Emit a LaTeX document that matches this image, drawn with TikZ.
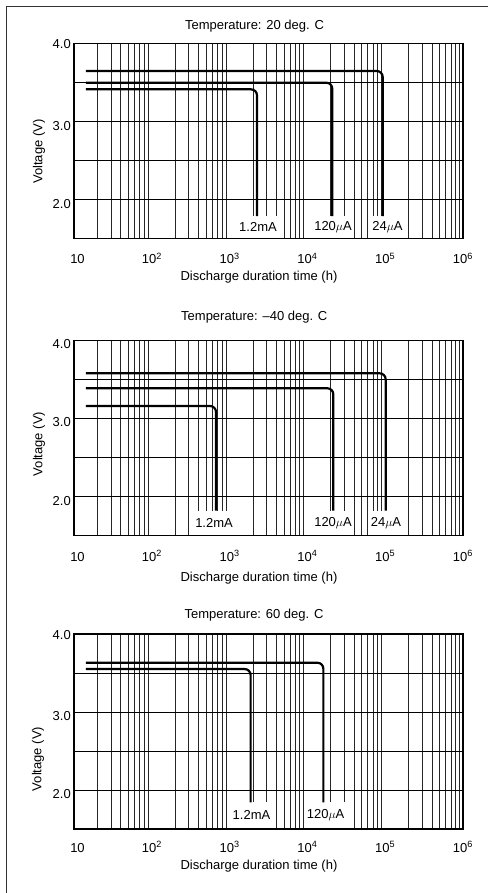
\documentclass[tikz,border=0pt]{standalone}
\usepackage{fontspec}
\setmainfont{Liberation Sans}
\newcommand\gridpanel{%
  \foreach \k in {0,...,4}{\foreach \m in {2,...,9}{\draw[gridv] ({\k+log10(\m)},0) -- ++(0,2.5);}}
  \foreach \v in {0.5,1,1.5,2} \draw[gridh] (0,\v) -- (5,\v);
}
\newcommand\xticks[2]{% #1 prefix, #2 baseline y
  \node[anchor=base] (#1x1) at (77.5,#2) {10};
  \foreach \k in {2,...,6}{%
    \pgfmathsetmacro\xx{74+77.8*(\k-1)}
    \node[anchor=base] (#1x\k) at (\xx,#2) {10\textsuperscript{\k}};}
}
\begin{document}
\begin{tikzpicture}[x=1pt,y=-1pt,
  font=\fontsize{13}{15}\selectfont,
  gridv/.style={draw=black!85, line width=0.9pt},
  gridh/.style={draw=black, line width=0.95pt},
  plotframe/.style={draw=black, line width=1.2pt},
  curve/.style={draw=black, line width=2.2pt, rounded corners=6pt},
  curlab/.style={fill=white, inner xsep=2pt, inner ysep=0pt, anchor=south},
  ylab/.style={anchor=east, inner sep=1pt},
  panel/.style={shift={(74pt,-#1pt)}, x=77.8pt, y=78pt}]
\useasboundingbox (0,0) rectangle (488,893);
\fill[white] (0,0) rectangle (488,893);
% outer frame
\coordinate (fb) at (6.5,893);
\coordinate (fc) at (6.5,6.5);
\coordinate (fr) at (488,6.5);
\draw[black!80, line width=1.6pt] (fb) -- (fc) -- (fr);

% ---------------- Panel 1: 20 deg C
\node (t1) at (254.5,25.7) {Temperature: 20 deg. C};
\begin{scope}[panel=238.7]
  \gridpanel
  \node[curlab, minimum height=22.7pt] (a1) at (2.365,0) {1.2mA};
  \node[curlab, minimum height=22.7pt] (a2) at (3.329,0) {120$\mu$A};
  \node[curlab, minimum height=22.7pt] (a3) at (4.03,0) {24$\mu$A};
  \draw[plotframe] (0,0) rectangle (5,2.5);
  \draw[curve] (0.154,2.15) -| (3.968,0.291);
  \draw[curve] (0.154,2.0) -| (3.32,0.291);
  \draw[curve] (0.154,1.915) -| (2.352,0.291);
\end{scope}
\node[ylab] (y1a) at (72,44.5) {4.0};
\node[ylab] (y1b) at (72,125.7) {3.0};
\node[ylab] (y1c) at (72,203.7) {2.0};
\node[rotate=90] (v1) at (39,151.7) {Voltage (V)};
\xticks{p1}{263.5}
\node (d1) at (259,277.3) {Discharge duration time (h)};

% ---------------- Panel 2: -40 deg C
\node (t2) at (254.3,317.3) {Temperature: \textendash40 deg. C};
\begin{scope}[panel=535.7]
  \gridpanel
  \node[curlab, minimum height=25pt] (b1) at (1.80,0) {1.2mA};
  \node[curlab, minimum height=25pt] (b2) at (3.329,0) {120$\mu$A};
  \node[curlab, minimum height=25pt] (b3) at (4.01,0) {24$\mu$A};
  \draw[plotframe] (0,0) rectangle (5,2.5);
  \draw[curve] (0.154,2.082) -| (4.006,0.32);
  \draw[curve] (0.154,1.89) -| (3.333,0.32);
  \draw[curve] (0.154,1.663) -| (1.825,0.32);
\end{scope}
\node[ylab] (y2a) at (72,344) {4.0};
\node[ylab] (y2b) at (72,422.5) {3.0};
\node[ylab] (y2c) at (72,501) {2.0};
\node[rotate=90] (v2) at (39,444) {Voltage (V)};
\xticks{p2}{561}
\node (d2) at (259,578.3) {Discharge duration time (h)};

% ---------------- Panel 3: 60 deg C
\node (t3) at (254,615) {Temperature: 60 deg. C};
\begin{scope}[panel=829]
  \gridpanel
  \node[curlab, minimum height=26.7pt] (c1) at (2.281,0) {1.2mA};
  \node[curlab, minimum height=26.7pt] (c2) at (3.233,0) {120$\mu$A};
  \draw[plotframe] (0,0) rectangle (5,2.5);
  \draw[curve] (0.154,2.132) -| (3.205,0.342);
  \draw[curve] (0.154,2.051) -| (2.27,0.342);
\end{scope}
\node[ylab] (y3a) at (72,635) {4.0};
\node[ylab] (y3b) at (72,716) {3.0};
\node[ylab] (y3c) at (72,794) {2.0};
\node[rotate=90] (v3) at (38,759) {Voltage (V)};
\xticks{p3}{852}
\node (d3) at (259,865.7) {Discharge duration time (h)};
\end{tikzpicture}
\end{document}
